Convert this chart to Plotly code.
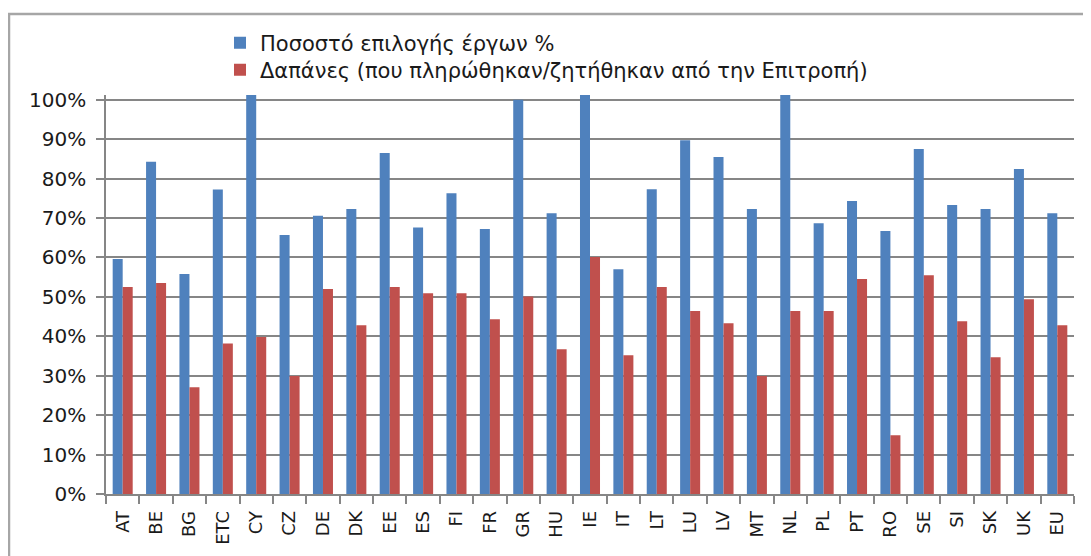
import plotly.graph_objects as go

categories = ["AT", "BE", "BG", "ETC", "CY", "CZ", "DE", "DK", "EE", "ES", "FI", "FR", "GR", "HU",
              "IE", "IT", "LT", "LU", "LV", "MT", "NL", "PL", "PT", "RO", "SE", "SI", "SK", "UK", "EU"]

selection_rate = [0.596, 0.843, 0.558, 0.772, 1.012, 0.657, 0.706, 0.723, 0.865, 0.676, 0.763, 0.672, 1.000, 0.712,
                  1.012, 0.570, 0.773, 0.897, 0.855, 0.723, 1.012, 0.687, 0.743, 0.667, 0.875, 0.733, 0.723, 0.824, 0.712]

expenditure = [0.525, 0.535, 0.271, 0.382, 0.398, 0.299, 0.520, 0.428, 0.525, 0.509, 0.509, 0.443, 0.501, 0.367,
               0.601, 0.352, 0.525, 0.464, 0.433, 0.299, 0.464, 0.464, 0.545, 0.149, 0.555, 0.438, 0.347, 0.494, 0.428]

series_names = ["Ποσοστό επιλογής έργων %",
                "Δαπάνες (που πληρώθηκαν/ζητήθηκαν από την Επιτροπή)"]

y_ticks = [0, 0.1, 0.2, 0.3, 0.4, 0.5, 0.6, 0.7, 0.8, 0.9, 1.0]
y_tick_labels = ["0%", "10%", "20%", "30%", "40%", "50%", "60%", "70%", "80%", "90%", "100%"]

FONT = "DejaVu Sans"
OFF = 8  # page body margin
W, H = 1091 - OFF, 556 - OFF
# plot area in page pixel coordinates
PL, PR, PT, PB = 106, 1074, 95, 494
ML, MR, MT, MB = PL - OFF, W + OFF - PR, PT - OFF, H + OFF - PB
pw, ph = PR - PL, PB - PT

def px_x(x):
    return (x - PL) / pw

def px_y(y):
    return (PB - y) / ph

legend_font = dict(family=FONT, size=21, color="#1a1a1a")

fig = go.Figure()
fig.add_trace(go.Bar(x=categories, y=selection_rate, name=series_names[0], legend="legend",
                     marker=dict(color="#4F81BD", line=dict(width=0))))
fig.add_trace(go.Bar(x=categories, y=expenditure, name=series_names[1], legend="legend2",
                     marker=dict(color="#C0504D", line=dict(width=0))))

fig.update_layout(
    width=W, height=H,
    margin=dict(l=ML, r=MR, t=MT, b=MB, autoexpand=False),
    paper_bgcolor="white", plot_bgcolor="white",
    barmode="group", bargap=0.4, bargroupgap=0,
    font=dict(family=FONT, size=18, color="#1a1a1a"),
    showlegend=True,
    legend=dict(x=px_x(220), y=px_y(43), xanchor="left", yanchor="middle",
                font=legend_font, bgcolor="rgba(0,0,0,0)", itemsizing="constant"),
    legend2=dict(x=px_x(220), y=px_y(70), xanchor="left", yanchor="middle",
                 font=legend_font, bgcolor="rgba(0,0,0,0)", itemsizing="constant"),
    xaxis=dict(type="category", tickangle=-90, tickson="boundaries",
               ticks="outside", ticklen=8, tickcolor="#868686", tickwidth=1.5,
               showline=True, linecolor="#868686", linewidth=1.5,
               showgrid=False, automargin=False, ticklabelstandoff=8,
               tickfont=dict(family=FONT, size=18, color="#1a1a1a")),
    yaxis=dict(range=[0, 1.012], tickvals=y_ticks, ticktext=y_tick_labels,
               ticks="outside", ticklen=8, tickcolor="#868686", tickwidth=1.5,
               showline=True, linecolor="#868686", linewidth=1.5,
               showgrid=True, gridcolor="#868686", gridwidth=1.5, zeroline=False,
               automargin=False, ticklabelstandoff=6,
               tickfont=dict(family=FONT, size=20, color="#1a1a1a")),
    shapes=[dict(type="rect", xref="paper", yref="paper",
                 x0=px_x(9), x1=px_x(1110), y0=px_y(580), y1=px_y(14),
                 line=dict(color="#a6a6a6", width=2.5), fillcolor="rgba(0,0,0,0)", layer="below")],
)

fig.write_html("out.html")
